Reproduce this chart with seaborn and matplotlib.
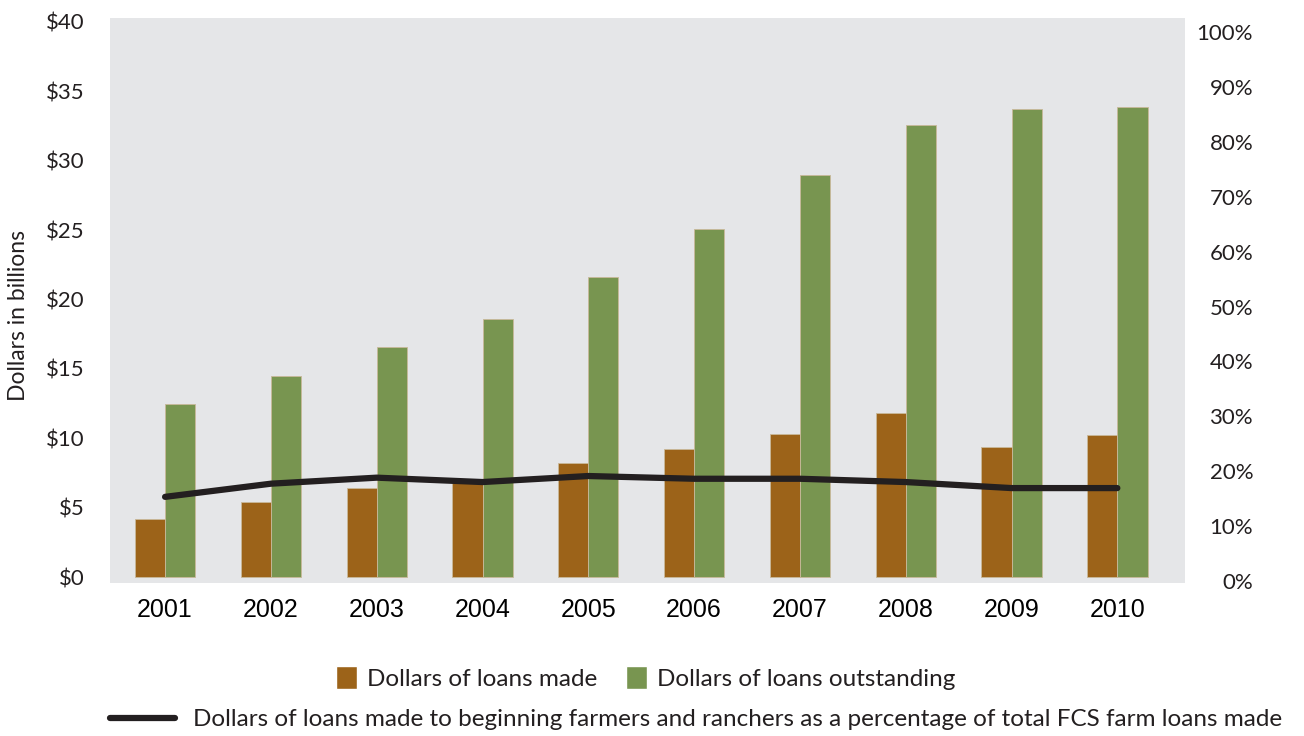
import matplotlib
matplotlib.use('Agg')
import matplotlib.pyplot as plt
import numpy as np
import pandas as pd
import seaborn as sns
from matplotlib.patches import Patch
from matplotlib.lines import Line2D
from matplotlib.ticker import FuncFormatter

# Data
years = ['2001', '2002', '2003', '2004', '2005', '2006', '2007', '2008', '2009', '2010']
loans_made = [4.2, 5.4, 6.4, 6.8, 8.2, 9.2, 10.3, 11.8, 9.4, 10.2]
loans_outstanding = [12.5, 14.5, 16.6, 18.6, 21.6, 25.1, 29.0, 32.6, 33.7, 33.9]
pct_beginning = [15.3, 17.7, 18.8, 18.0, 19.1, 18.6, 18.6, 18.0, 16.9, 16.9]

series_names = ['Dollars of loans made', 'Dollars of loans outstanding']
line_name = ('Dollars of loans made to beginning farmers and ranchers as a '
             'percentage of total FCS farm loans made')

orange = '#9C6319'
green = '#789550'
line_color = '#231F20'
bg = '#E5E6E8'

df = pd.DataFrame({'Year': years * 2,
                   'Series': [series_names[0]] * len(years) + [series_names[1]] * len(years),
                   'Value': loans_made + loans_outstanding})

sns.set_style('white')
plt.rcParams['font.family'] = ['Lato', 'DejaVu Sans']

fig = plt.figure(figsize=(13.04, 7.36), dpi=100)
ax = fig.add_axes([0.0844, 0.2079, 0.8244, 0.7677])
ax.set_facecolor(bg)

sns.barplot(data=df, x='Year', y='Value', hue='Series', order=years,
            hue_order=series_names, palette=[orange, green], width=0.57,
            saturation=1, ax=ax, legend=False, edgecolor='#C9B99A', linewidth=0.6)

ax.set_xlim(-0.52, 9.64)
ax.set_ylim(-0.43, 40.29)
ax.set_yticks(range(0, 41, 5))
ax.yaxis.set_major_formatter(FuncFormatter(lambda v, p: f'${v:.0f}'))
ax.set_xlabel('')
ax.set_ylabel('Dollars in billions', fontsize=16.5, color='#231F20')
ax.yaxis.set_label_coords(-0.0753, 0.4726)
ax.tick_params(axis='y', length=0, pad=18, labelsize=16, labelcolor='#231F20')
ax.tick_params(axis='x', length=0, pad=11, labelsize=18, labelcolor='black')
for lab in ax.get_xticklabels():
    lab.set_family('Liberation Sans')
for s in ax.spines.values():
    s.set_visible(False)

ax2 = ax.twinx()
sns.lineplot(x=np.arange(len(years)), y=pct_beginning, ax=ax2, color=line_color,
             linewidth=4.5, solid_capstyle='round', solid_joinstyle='round')
ax2.set_ylim(-0.4, 102.6)
ax2.set_yticks(range(0, 101, 10))
ax2.yaxis.set_major_formatter(FuncFormatter(lambda v, p: f'{v:.0f}%'))
ax2.tick_params(axis='y', length=0, pad=49, labelsize=16, labelcolor='#231F20')
for lab in ax2.get_yticklabels():
    lab.set_ha('right')
for s in ax2.spines.values():
    s.set_visible(False)
ax2.grid(False)
ax.grid(False)

h1 = [Patch(facecolor=orange), Patch(facecolor=green)]
fig.legend(h1, series_names, loc='center', bbox_to_anchor=(0.495, 0.079), ncol=2,
           frameon=False, fontsize=17.5, handlelength=0.86, handleheight=1.07,
           handletextpad=0.41, columnspacing=1.2, labelcolor='#231F20')
h2 = [Line2D([0], [0], color=line_color, linewidth=4.5)]
fig.legend(h2, [line_name], loc='center', bbox_to_anchor=(0.534, 0.022),
           frameon=False, fontsize=17.5, handlelength=2.67, handletextpad=0.74,
           labelcolor='#231F20')

fig.savefig('out.png', dpi=100)
